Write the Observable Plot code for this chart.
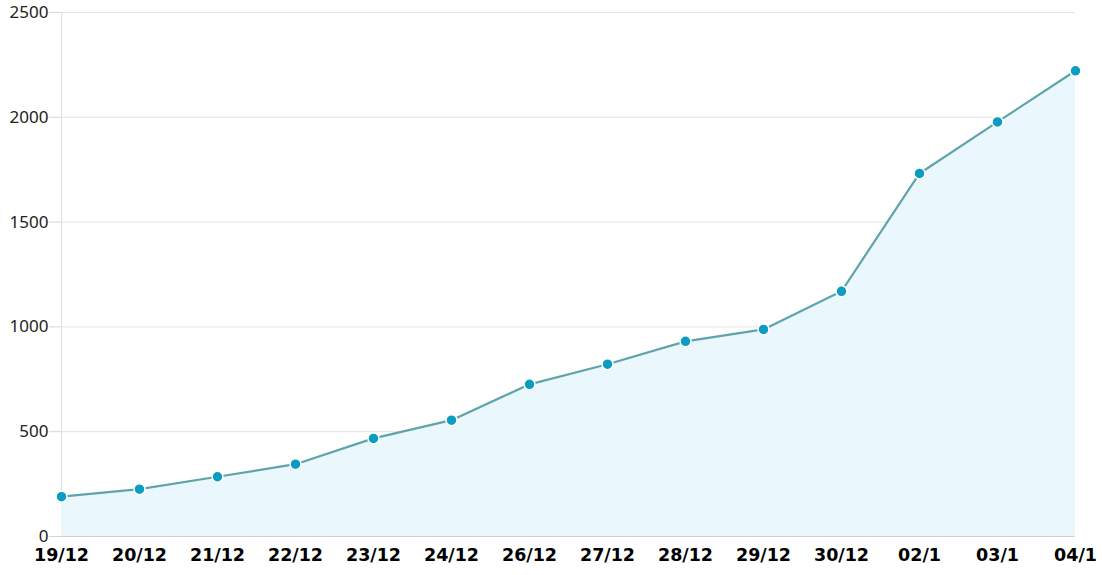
<!DOCTYPE html>
<html>
<head>
<meta charset="utf-8">
<script src="https://cdn.jsdelivr.net/npm/d3@7"></script>
<script src="https://cdn.jsdelivr.net/npm/@observablehq/plot@0.6"></script>
<style>
  html, body { margin: 0; padding: 0; background: #fff; }
  #chart svg { display: block; }
  #chart g[aria-label="y-axis tick label"] text { font-size: 17px; font-family: "Noto Sans", sans-serif; }
  #chart g[aria-label="x-axis tick label"] text { font-size: 17.5px; font-weight: bold; font-family: "DejaVu Sans", sans-serif; }
</style>
</head>
<body>
<div id="chart"></div>
<script>
const dates = ["19/12","20/12","21/12","22/12","23/12","24/12","26/12","27/12","28/12","29/12","30/12","02/1","03/1","04/1"];
const values = [190, 226, 285, 345, 468, 555, 726, 822, 931, 988, 1170, 1732, 1978, 2222];
const yTicks = [0, 500, 1000, 1500, 2000, 2500];

const data = dates.map((d, i) => ({date: d, value: values[i]}));

const chart = Plot.plot({
  width: 1102,
  height: 575,
  marginLeft: 61,
  marginRight: 27,
  marginTop: 12,
  marginBottom: 39,
  style: {fontFamily: "DejaVu Sans, Verdana, sans-serif", background: "#fff", color: "#111", fontSize: "15px"},
  x: {type: "point", domain: dates, padding: 0, label: null},
  y: {domain: [0, 2500], label: null},
  marks: [
    Plot.gridY(yTicks, {stroke: "#e3e3e3", strokeOpacity: 1}),
    Plot.ruleX([dates[0]], {stroke: "#e0e0e0"}),
    Plot.areaY(data, {x: "date", y: "value", fill: "#eaf8fd"}),
    Plot.ruleY([0], {stroke: "#cfcfcf"}),
    Plot.lineY(data, {x: "date", y: "value", stroke: "#5ea4aa", strokeWidth: 2.2}),
    Plot.dot(data, {x: "date", y: "value", r: 5.5, fill: "#0b9cc1", stroke: "#fff", strokeWidth: 1.5}),
    Plot.axisY(yTicks, {tickSize: 12, tickPadding: 1, stroke: "#d6d6d6", fill: "#222", label: null, tickFormat: d => String(d)}),
    Plot.axisX({tickSize: 0, tickPadding: 12, fill: "#000", label: null})
  ]
});
document.getElementById("chart").appendChild(chart);
</script>
</body>
</html>
